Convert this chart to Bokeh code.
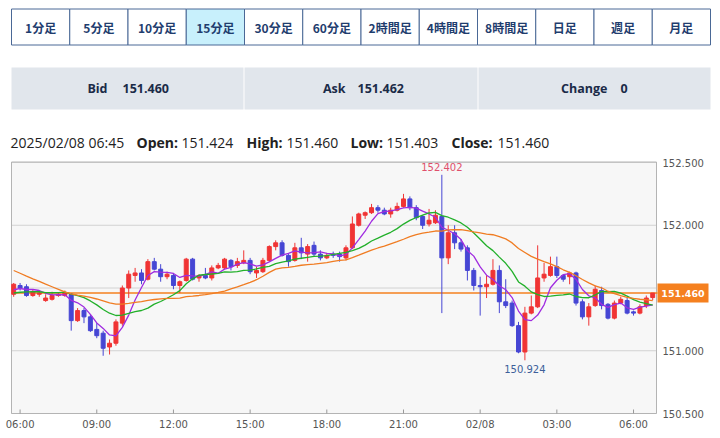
import numpy as np
import pandas as pd
from bokeh.plotting import figure
from bokeh.models import ColumnDataSource, Range1d
from bokeh.embed import file_html
from bokeh.resources import INLINE
from bokeh.core.properties import value

# ---------------- data ----------------
buttons = ["1分足", "5分足", "10分足", "15分足", "30分足", "60分足",
           "2時間足", "4時間足", "8時間足", "日足", "週足", "月足"]
selected_button = "15分足"
quote_labels = ["Bid", "Ask", "Change"]
quote_values = ["151.460", "151.462", "0"]
header_time = "2025/02/08 06:45"
header_labels = ["Open:", "High:", "Low:", "Close:"]
header_values = ["151.424", "151.460", "151.403", "151.460"]

start_time = "2025-02-07 05:45"

opens = [151.45, 151.52, 151.51, 151.44, 151.45, 151.40, 151.41, 151.44, 151.44, 151.45,
         151.24, 151.32, 151.27, 151.17, 151.14, 151.03, 151.06, 151.22, 151.50, 151.60,
         151.62, 151.57, 151.71, 151.65, 151.59, 151.60, 151.52, 151.56, 151.73, 151.58,
         151.60, 151.58, 151.66, 151.66, 151.72, 151.68, 151.70, 151.72, 151.62, 151.63,
         151.72, 151.83, 151.86, 151.76, 151.72, 151.82, 151.77, 151.84, 151.77, 151.74,
         151.77, 151.77, 151.74, 151.82, 152.00, 152.08, 152.10, 152.14, 152.12, 152.09,
         152.12, 152.15, 152.21, 152.14, 152.07, 152.01, 152.02, 152.07, 151.74, 151.94,
         151.86, 151.82, 151.64, 151.52, 151.51, 151.53, 151.64, 151.39, 151.38, 151.20,
         150.99, 151.30, 151.35, 151.58, 151.60, 151.67, 151.60, 151.59, 151.62, 151.39,
         151.27, 151.36, 151.48, 151.37, 151.26, 151.38, 151.40, 151.31, 151.30, 151.36,
         151.424]
highs = [151.54, 151.54, 151.53, 151.49, 151.48, 151.45, 151.47, 151.46, 151.48, 151.46,
         151.34, 151.34, 151.29, 151.22, 151.16, 151.09, 151.25, 151.52, 151.64, 151.66,
         151.65, 151.73, 151.74, 151.69, 151.63, 151.62, 151.56, 151.74, 151.74, 151.61,
         151.66, 151.68, 151.70, 151.74, 151.73, 151.74, 151.80, 151.74, 151.67, 151.74,
         151.84, 151.88, 151.88, 151.77, 151.86, 151.90, 151.85, 151.87, 151.80, 151.78,
         151.79, 151.79, 151.84, 152.07, 152.10, 152.11, 152.17, 152.16, 152.14, 152.14,
         152.18, 152.25, 152.23, 152.16, 152.08, 152.13, 152.12, 152.402, 152.00, 152.00,
         151.89, 151.84, 151.66, 151.59, 151.60, 151.73, 151.68, 151.57, 151.40, 151.23,
         151.35, 151.44, 151.84, 151.70, 151.75, 151.75, 151.61, 151.63, 151.63, 151.41,
         151.38, 151.52, 151.51, 151.38, 151.40, 151.43, 151.42, 151.32, 151.37, 151.44,
         151.460]
lows = [151.43, 151.48, 151.43, 151.43, 151.43, 151.39, 151.40, 151.43, 151.43, 151.16,
        151.23, 151.22, 151.15, 151.10, 150.96, 150.97, 151.04, 151.20, 151.42, 151.55,
        151.53, 151.56, 151.64, 151.55, 151.57, 151.49, 151.46, 151.55, 151.56, 151.55,
        151.57, 151.56, 151.65, 151.65, 151.64, 151.66, 151.69, 151.61, 151.58, 151.62,
        151.71, 151.80, 151.75, 151.67, 151.71, 151.73, 151.71, 151.75, 151.72, 151.73,
        151.74, 151.71, 151.72, 151.81, 151.99, 152.05, 152.09, 152.10, 152.08, 152.06,
        152.11, 152.14, 152.12, 152.04, 151.97, 151.99, 152.01, 151.30, 151.69, 151.81,
        151.79, 151.56, 151.48, 151.28, 151.42, 151.52, 151.30, 151.34, 151.19, 150.98,
        150.924, 151.29, 151.34, 151.55, 151.59, 151.58, 151.55, 151.53, 151.36, 151.25,
        151.20, 151.35, 151.33, 151.25, 151.25, 151.37, 151.29, 151.28, 151.29, 151.34,
        151.403]
closes = [151.53, 151.50, 151.44, 151.47, 151.46, 151.42, 151.44, 151.45, 151.46, 151.24,
          151.32, 151.27, 151.16, 151.12, 151.02, 151.06, 151.23, 151.50, 151.61, 151.62,
          151.56, 151.71, 151.65, 151.59, 151.61, 151.52, 151.55, 151.73, 151.57, 151.60,
          151.58, 151.66, 151.68, 151.73, 151.67, 151.71, 151.72, 151.63, 151.64, 151.72,
          151.83, 151.86, 151.76, 151.71, 151.82, 151.78, 151.83, 151.77, 151.74, 151.76,
          151.76, 151.75, 151.82, 152.01, 152.09, 152.10, 152.14, 152.12, 152.09, 152.12,
          152.15, 152.21, 152.14, 152.06, 152.00, 152.04, 152.08, 151.74, 151.94, 151.86,
          151.81, 151.64, 151.52, 151.51, 151.53, 151.64, 151.39, 151.36, 151.20, 150.99,
          151.30, 151.35, 151.58, 151.61, 151.67, 151.60, 151.57, 151.62, 151.38, 151.27,
          151.35, 151.49, 151.36, 151.26, 151.38, 151.41, 151.30, 151.30, 151.35, 151.42,
          151.460]
# closes before the visible window (needed to warm up the moving averages)
prior_closes = [152.05, 152.02, 152.00, 151.98, 151.97, 151.95, 151.96, 151.99,
                151.62, 151.55, 151.48, 151.44, 151.42, 151.40, 151.45, 151.47,
                151.50, 151.46, 151.43, 151.42, 151.45, 151.48, 151.47, 151.50]
ma_periods = [5, 13, 25]
ma_colors = ["#a02ce0", "#22b02a", "#f07c22"]

y_ticks = [150.5, 151.0, 151.5, 152.0, 152.5]
y_tick_labels = ["150.500", "151.000", "", "152.000", "152.500"]
last_price = 151.460
last_price_label = "151.460"
high_label = "152.402"
low_label = "150.924"

# ---------------- derived ----------------
times = pd.date_range(start_time, periods=len(closes), freq="15min")
idx = np.arange(len(closes))
o = np.array(opens); h = np.array(highs); l = np.array(lows); c = np.array(closes)
UP, DOWN = "#f03434", "#4646d4"
colors = [UP if cc >= oo else DOWN for oo, cc in zip(o, c)]
src = ColumnDataSource(dict(x=idx, o=o, h=h, l=l, c=c,
                            top=np.maximum(o, c), bottom=np.minimum(o, c), color=colors))

tick_pos = [int(i) for i, t in zip(idx, times) if t.minute == 0 and t.hour % 3 == 0]
tick_txt = [times[i].strftime("%m/%d") if times[i].hour == 0 else times[i].strftime("%H:%M")
            for i in tick_pos]

allc = pd.Series(prior_closes + closes)
mas = [allc.rolling(n).mean().to_numpy()[len(prior_closes):] for n in ma_periods]

# ---------------- header figure (page pixel coordinates) ----------------
HW, HH = 720, 156
hdr = figure(width=HW, height=HH, x_range=Range1d(0, HW), y_range=Range1d(HH, 0),
             toolbar_location=None, output_backend="svg", x_axis_location=None,
             y_axis_location=None, min_border=0)
hdr.grid.visible = False
hdr.outline_line_color = None
hdr.background_fill_color = "white"
hdr.border_fill_color = "white"

bx0, bx1 = 11, 710
bw = (bx1 - bx0) / len(buttons)
lefts = [bx0 + k * bw for k in range(len(buttons))]
hdr.quad(left=lefts, right=[a + bw for a in lefts], top=[8.5] * len(buttons),
         bottom=[44.5] * len(buttons),
         fill_color=["#c8f0fc" if b == selected_button else "white" for b in buttons],
         line_color="#4a6896", line_width=1)
hdr.text(x=[a + bw / 2 for a in lefts], y=[26.5] * len(buttons), text=buttons,
         text_align="center", text_baseline="middle", text_font=value("Noto Sans CJK JP"),
         text_font_size="12px", text_font_style="bold", text_color="#1f3d6e")

box_l = [11, 244, 478]
box_r = [243, 477, 710]
hdr.quad(left=box_l, right=box_r, top=[67] * 3, bottom=[109] * 3,
         fill_color="#e1e6ec", line_color=None)
lab_right = [107, 345, 607]
val_left = [122, 357, 620]
hdr.text(x=lab_right, y=[88] * 3, text=quote_labels, text_align="right",
         text_baseline="middle", text_font=value("Open Sans"), text_font_size="12.5px",
         text_font_style="bold", text_color="#1b2b48")
hdr.text(x=val_left, y=[88] * 3, text=quote_values, text_align="left",
         text_baseline="middle", text_font=value("Open Sans"), text_font_size="12.5px",
         text_font_style="bold", text_color="#1b2b48")

hy = 142
hdr.text(x=[10], y=[hy], text=[header_time], text_align="left", text_baseline="middle",
         text_font=value("Open Sans"), text_font_size="14px", text_color="#222222")
hdr.text(x=[136, 246, 350, 451], y=[hy] * 4, text=header_labels, text_align="left",
         text_baseline="middle", text_font=value("Open Sans"), text_font_size="14px",
         text_font_style="bold", text_color="#222222")
hdr.text(x=[181, 286, 386, 497], y=[hy] * 4, text=header_values, text_align="left",
         text_baseline="middle", text_font=value("Open Sans"), text_font_size="14px",
         text_color="#222222")

# ---------------- chart figure ----------------
CW, CH = 720, 438 - HH
PX_PER_BAR = 6.39      # pixels per 15-minute bar
X0_PX = 13.2           # page x of the first bar
PX_PER_UNIT = 125.5    # pixels per 1.00 yen
Y_REF_PX = 413         # page y of 150.500
def px2x(px):
    return (px - X0_PX) / PX_PER_BAR
def py2y(py):
    return y_ticks[0] + (Y_REF_PX - py) / PX_PER_UNIT
def dy(px):
    return px / PX_PER_UNIT

p = figure(width=CW, height=CH, x_range=Range1d(px2x(0), px2x(CW)),
           y_range=Range1d(py2y(438), py2y(HH)), x_axis_location=None,
           y_axis_location=None, toolbar_location=None, output_backend="svg",
           min_border=0)
p.background_fill_color = "white"
p.border_fill_color = "white"
p.outline_line_color = None
p.grid.visible = False

# chart area
ax_l, ax_r = px2x(11), px2x(656)
ax_b, ax_t = py2y(413), py2y(161.5)
p.quad(left=[ax_l], right=[ax_r], bottom=[ax_b], top=[ax_t],
       fill_color="#f7f7f7", line_color=None)
p.segment(x0=[ax_l] * len(y_ticks), x1=[ax_r] * len(y_ticks), y0=y_ticks, y1=y_ticks,
          line_color="#d2d2d2", line_width=1)
p.quad(left=[ax_l], right=[ax_r], bottom=[ax_b], top=[ax_t],
       fill_color=None, line_color="#b4b4b4", line_width=1)

# price scale labels (right)
p.text(x=[px2x(662)] * len(y_ticks), y=y_ticks, text=y_tick_labels, text_align="left",
       text_baseline="middle", text_font=value("DejaVu Sans"), text_font_size="10px",
       text_color="#555555")

# time scale ticks and labels (bottom)
p.segment(x0=tick_pos, x1=tick_pos, y0=[ax_b] * len(tick_pos),
          y1=[ax_b + dy(4)] * len(tick_pos), line_color="#999999", line_width=1)
p.text(x=tick_pos, y=[py2y(424)] * len(tick_pos), text=tick_txt, text_align="center",
       text_baseline="middle", text_font=value("DejaVu Sans"), text_font_size="10px",
       text_color="#555555")

# current price line
box_x0, box_x1 = px2x(657), px2x(708)
p.segment(x0=[ax_l], x1=[box_x0], y0=[last_price], y1=[last_price],
          line_color="#f5801f", line_width=1.5)

# candles
p.segment(x0="x", y0="l", x1="x", y1="h", color="color", line_width=1, source=src)
p.vbar(x="x", width=0.62, top="top", bottom="bottom", fill_color="color",
       line_color="color", line_width=1, source=src)

# moving averages
for m, col in zip(mas, ma_colors):
    p.line(idx, m, line_color=col, line_width=1.3)

hi_i = int(np.argmax(h)); lo_i = int(np.argmin(l))
p.text(x=[hi_i], y=[h[hi_i]], text=[high_label], text_align="center",
       text_baseline="bottom", y_offset=-4, text_font=value("DejaVu Sans"),
       text_font_size="10px", text_color="#e0506c")
p.text(x=[lo_i], y=[l[lo_i]], text=[low_label], text_align="center",
       text_baseline="top", y_offset=5, text_font=value("DejaVu Sans"),
       text_font_size="10px", text_color="#3d5f9a")

# current price tag
p.quad(left=[box_x0], right=[box_x1], bottom=[last_price - dy(9.5)],
       top=[last_price + dy(9.5)], fill_color="#f5801f", line_color=None)
p.text(x=[(box_x0 + box_x1) / 2], y=[last_price], text=[last_price_label],
       text_align="center", text_baseline="middle", text_font=value("DejaVu Sans"),
       text_font_size="9.5px", text_font_style="bold", text_color="white")

open("out.html", "w").write(file_html([hdr, p], INLINE))
